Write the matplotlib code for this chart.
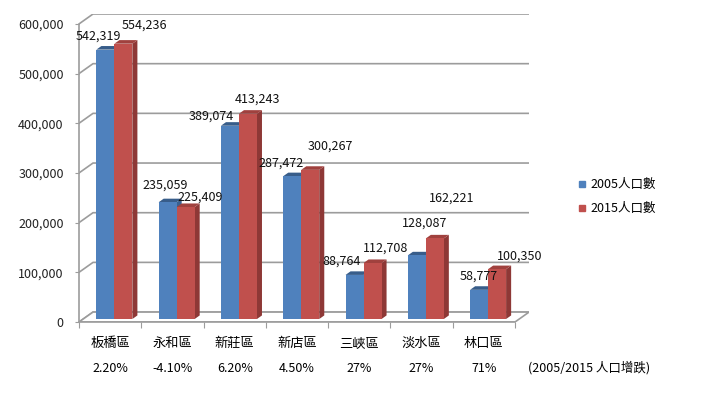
import matplotlib
matplotlib.use("Agg")
import matplotlib.pyplot as plt
from matplotlib.patches import Polygon
from matplotlib.lines import Line2D
from matplotlib.ticker import FuncFormatter

plt.rcParams['font.family'] = ['Noto Sans CJK TC', 'DejaVu Sans']

# data
districts = ["板橋區", "永和區", "新莊區", "新店區", "三峽區", "淡水區", "林口區"]
pop_2005 = [542319, 235059, 389074, 287472, 88764, 128087, 58777]
pop_2015 = [554236, 225409, 413243, 300267, 112708, 162221, 100350]
growth = ["2.20%", "-4.10%", "6.20%", "4.50%", "27%", "27%", "71%"]
series_names = ["2005人口數", "2015人口數"]
y_ticks = [0, 100000, 200000, 300000, 400000, 500000, 600000]

# label offsets (pixels from bar top centre), as placed in the original
off_2005 = [(-7, 13), (-2, 17), (-19, 10), (-11, 13), (-13, 14), (8, 32), (0, 14)]
off_2015 = [(21, 19), (15, 10), (10, 15), (20, 24), (13, 15), (17, 40), (23, 13)]

# 3d look
DX, DY = 0.225, 20000      # floor / wall depth in data units
BASE = 0.3                 # bars stand this far back on the floor
BD = 0.36                  # bar depth as part of the floor depth
W = 0.289                  # bar width

blue = ("#4F81BD", "#3A6190", "#385D8A")
red = ("#C0504D", "#8E3836", "#A0413E")
grid_c = "#9C9C9C"

fig = plt.figure(figsize=(7.03, 3.94), dpi=100)
ax = fig.add_axes([79 / 703, (394 - 322) / 394, 450 / 703, 308 / 394])
n = len(districts)
xmax = -0.5 + 450 / 62.29
ax.set_xlim(-0.5, xmax)
ax.set_ylim(0, 620000)
for s in ["top", "right"]:
    ax.spines[s].set_visible(False)
for s in ["left", "bottom"]:
    ax.spines[s].set_color(grid_c)
    ax.spines[s].set_linewidth(1.2)
ax.spines["left"].set_bounds(0, 600000)
ax.spines["bottom"].set_bounds(-0.5, n - 0.5)

# walls and floor
for v in y_ticks:
    ax.plot([-0.5, -0.5 + DX, xmax], [v, v + DY, v + DY], color=grid_c, lw=1.2, zorder=1)
ax.add_patch(Polygon([(-0.5, 0), (n - 0.5, 0), (n - 0.5 + DX, DY), (-0.5 + DX, DY)],
                     closed=True, facecolor="white", edgecolor=grid_c, lw=1.2, zorder=1))

ax.set_yticks(y_ticks)
ax.yaxis.set_major_formatter(FuncFormatter(lambda v, p: f"{int(v):,}"))
ax.tick_params(axis="y", length=3, color=grid_c, pad=8, labelsize=9, labelcolor="#222222")
ax.set_xticks([i - 0.5 for i in range(n + 1)])
ax.set_xticklabels([])
ax.tick_params(axis="x", which="major", length=4, color=grid_c)
ax.set_xticks(range(n), districts, minor=True)
ax.tick_params(axis="x", which="minor", length=0, pad=11, labelsize=9.5)


def bar3d(x0, v, cols, zo):
    b = BASE * DY
    ddx, ddy = BD * DX, BD * DY
    ax.bar(x0, v, width=W, bottom=b, align="edge", color=cols[0], zorder=zo + 0.2)
    x1 = x0 + W
    ax.add_patch(Polygon([(x1, b), (x1 + ddx, b + ddy), (x1 + ddx, b + v + ddy), (x1, b + v)],
                         closed=True, facecolor=cols[1], edgecolor="none", zorder=zo))
    ax.add_patch(Polygon([(x0, b + v), (x1, b + v), (x1 + ddx, b + v + ddy), (x0 + ddx, b + v + ddy)],
                         closed=True, facecolor=cols[2], edgecolor="none", zorder=zo + 0.1))


shift = BASE * DX
for i in range(n):
    xb = i + shift - W
    xr = i + shift
    bar3d(xb, pop_2005[i], blue, 3)
    bar3d(xr, pop_2015[i], red, 4)
    top = BASE * DY
    ax.annotate(f"{pop_2005[i]:,}", xy=(xb + W / 2, pop_2005[i] + top),
                xytext=(off_2005[i][0], off_2005[i][1]), textcoords="offset pixels",
                ha="center", va="center", fontsize=9, color="#111111", zorder=10)
    ax.annotate(f"{pop_2015[i]:,}", xy=(xr + W / 2, pop_2015[i] + top),
                xytext=(off_2015[i][0], off_2015[i][1]), textcoords="offset pixels",
                ha="center", va="center", fontsize=9, color="#111111", zorder=10)
    ax.annotate(growth[i], xy=(i, 0), xycoords=("data", "axes fraction"),
                xytext=(0, -46), textcoords="offset pixels",
                ha="center", va="center", fontsize=9, annotation_clip=False)

fig.text(589 / 703, 1 - 368 / 394, "(2005/2015 人口增跌)", ha="center", va="center", fontsize=9)

handles = [Line2D([], [], marker="s", linestyle="none", markersize=4.5, color=blue[0]),
           Line2D([], [], marker="s", linestyle="none", markersize=4.5, color=red[0])]
fig.legend(handles, series_names, loc="upper left", bbox_to_anchor=(578 / 703, 1 - 178 / 394),
           frameon=False, fontsize=9, handlelength=0.6, handletextpad=0.4,
           labelspacing=0.9, borderpad=0, borderaxespad=0)

plt.savefig("out.png", dpi=100)
